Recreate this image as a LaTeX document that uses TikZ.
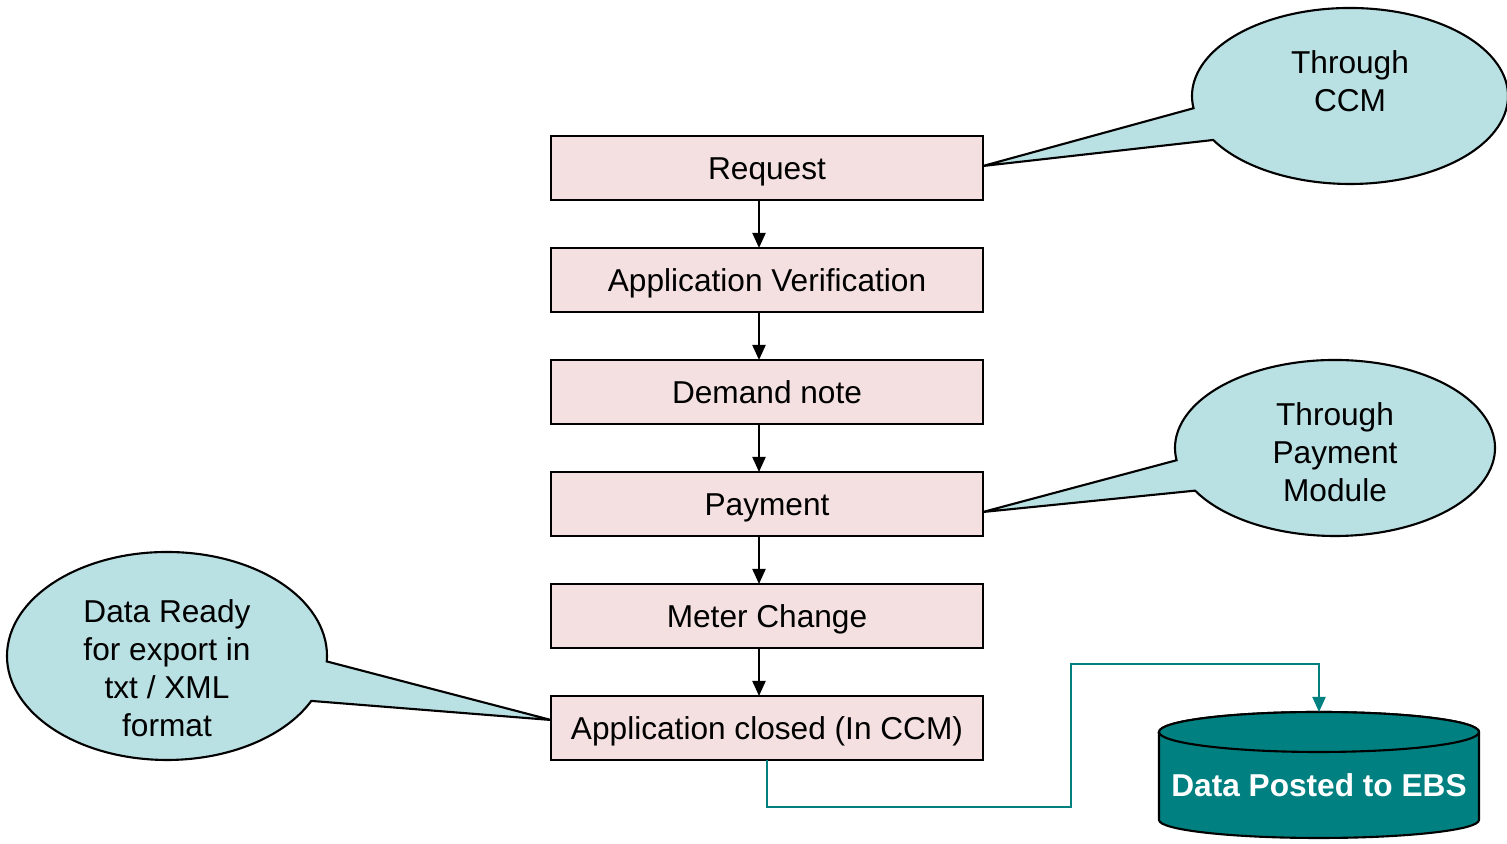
\documentclass[tikz,border=0pt]{standalone}
\usepackage{fontspec}
\setmainfont{Liberation Sans}
\usetikzlibrary{arrows.meta}
\definecolor{boxpink}{RGB}{244,224,224}
\definecolor{callblue}{RGB}{185,224,227}
\definecolor{ebsteal}{RGB}{0,128,128}

\begin{document}
\begin{tikzpicture}[every node/.style={font=\fontsize{9}{10.8}\selectfont, outer sep=0pt},
    procbox/.style={draw, line width=0.6pt, fill=boxpink, minimum width=4.32cm, minimum height=0.64cm, text height=6.8pt, text depth=0pt},
    bubble/.style={draw, line width=0.6pt, fill=callblue},
    flow/.style={-{Triangle[length=1.5mm, width=1.3mm]}, line width=0.6pt}]
            \useasboundingbox (0,0) rectangle (15.07,8.44);
            % process steps
            \node[procbox] (req) at (7.67,6.76) {Request};
            \node[procbox] (ver) at (7.67,5.64) {Application Verification};
            \node[procbox] (dem) at (7.67,4.52) {Demand note};
            \node[procbox] (pay) at (7.67,3.40) {Payment};
            \node[procbox] (met) at (7.67,2.28) {Meter Change};
            \node[procbox] (clo) at (7.67,1.16) {Application closed (In CCM)};
            \foreach \a/\b in {req/ver, ver/dem, dem/pay, pay/met, met/clo}
                \draw[flow] ([xshift=-0.08cm]\a.south) -- ([xshift=-0.08cm]\b.north);
            % callouts
            \draw[bubble] (13.50,7.48) ++(210:1.58 and 0.88) arc[start angle=210, end angle=548, x radius=1.58, y radius=0.88] -- ([yshift=0.02cm]req.east) -- cycle;
            \draw[bubble] (13.35,3.96) ++(209:1.60 and 0.88) arc[start angle=209, end angle=548, x radius=1.60, y radius=0.88] -- ([yshift=-0.08cm]pay.east) -- cycle;
            \draw[bubble] (1.67,1.88) ++(-3:1.60 and 1.04) arc[start angle=-3, end angle=334.4, x radius=1.60, y radius=1.04] -- ([yshift=0.08cm]clo.west) -- cycle;
            \node[align=center] (ccm) at (13.50,7.63) {Through\\CCM};
            \node[align=center] (paymod) at (13.35,3.92) {Through\\Payment\\Module};
            \node[align=center] (ready) at (1.67,1.76) {Data Ready\\for export in\\txt / XML\\format};
            % database
            \draw[line width=0.6pt, fill=ebsteal] (11.59,1.12) -- (11.59,0.24) arc[start angle=180, end angle=360, x radius=1.60, y radius=0.18] -- (14.79,1.12) arc[start angle=0, end angle=180, x radius=1.60, y radius=0.20] -- cycle;
            \draw[line width=0.6pt, fill=ebsteal] (13.19,1.12) ellipse [x radius=1.60, y radius=0.20];
            \node[text=white, font=\fontsize{9}{10.8}\selectfont\bfseries] (ebs) at (13.19,0.59) {Data Posted to EBS};
            \coordinate (ebstop) at (13.19,1.32);
            \draw[flow, ebsteal] (clo.south) |- (10.71,0.37) -- (10.71,1.80) -| (ebstop);
        \end{tikzpicture}
\end{document}
